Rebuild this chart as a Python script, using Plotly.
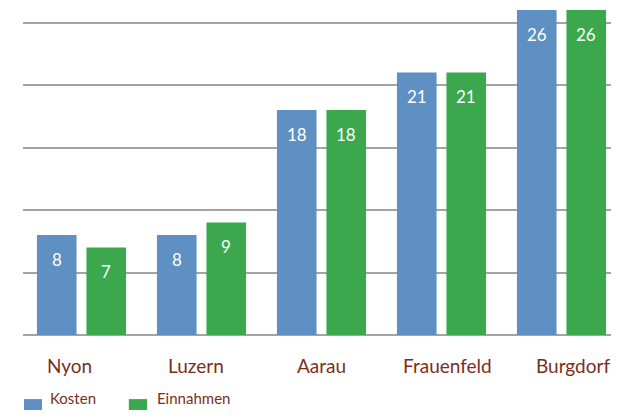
import plotly.graph_objects as go

categories = ["Nyon", "Luzern", "Aarau", "Frauenfeld", "Burgdorf"]
kosten = [8, 8, 18, 21, 26]
einnahmen = [7, 9, 18, 21, 26]
gridvals = [0, 5, 10, 15, 20, 25]
series_names = ["Kosten", "Einnahmen"]

BLUE = "#5e90c3"
GREEN = "#3ba84d"
BROWN = "#7a2e22"
FONT = "Lato, Noto Sans, sans-serif"

fig = go.Figure()
fig.add_trace(go.Bar(name=series_names[0], x=categories, y=kosten, marker_color=BLUE,
                     marker_line_width=0))
fig.add_trace(go.Bar(name=series_names[1], x=categories, y=einnahmen, marker_color=GREEN,
                     marker_line_width=0))

bargap = 0.175
groupgap = 0.2
slot = (1 - bargap) / 2
for vals, sign in ((kosten, -1), (einnahmen, 1)):
    for i, v in enumerate(vals):
        fig.add_annotation(x=i + sign * slot / 2, y=v, xref="x", yref="y",
                           text=str(v), showarrow=False, yanchor="middle",
                           yshift=-24, font=dict(color="white", size=17, family=FONT))

# category labels (slightly wider spread than the bar groups, as in the original)
mid = (len(categories) - 1) / 2
for i, c in enumerate(categories):
    fig.add_annotation(x=c, y=0, xref="x", yref="y", text=c, showarrow=False,
                       yanchor="middle", yshift=-30, xshift=(i - mid) * 5.8,
                       font=dict(color=BROWN, size=19, family=FONT))

# legend drawn as keys + labels below the plot
legend_keys = [(0.0017, 0.0323, 0.0425), (0.180, 0.211, 0.2245)]
for (x0, x1, xt), name, col in zip(legend_keys, series_names, [BLUE, GREEN]):
    fig.add_shape(type="rect", xref="paper", yref="paper", x0=x0, x1=x1,
                  y0=-0.251, y1=-0.196, fillcolor=col, line_width=0)
    fig.add_annotation(x=xt, y=-0.192, xref="paper", yref="paper", text=name,
                       showarrow=False, xanchor="left", yanchor="middle",
                       font=dict(color=BROWN, size=15, family=FONT))

fig.update_layout(
    width=603, height=402,
    margin=dict(l=15, r=0, t=0, b=75, autoexpand=False),
    paper_bgcolor="white", plot_bgcolor="white",
    barmode="group", bargap=bargap, bargroupgap=groupgap,
    showlegend=False,
    font=dict(family=FONT),
)
fig.update_xaxes(range=[-0.4875, 4.4125], showgrid=False, showline=False, zeroline=False,
                 showticklabels=False, ticks="")
fig.update_yaxes(range=[0, 26.16], tickvals=gridvals, showticklabels=False,
                 showgrid=True, gridcolor="#a3a3a3", gridwidth=2,
                 zeroline=True, zerolinecolor="#a3a3a3", zerolinewidth=2, showline=False)

fig.write_html("out.html")
